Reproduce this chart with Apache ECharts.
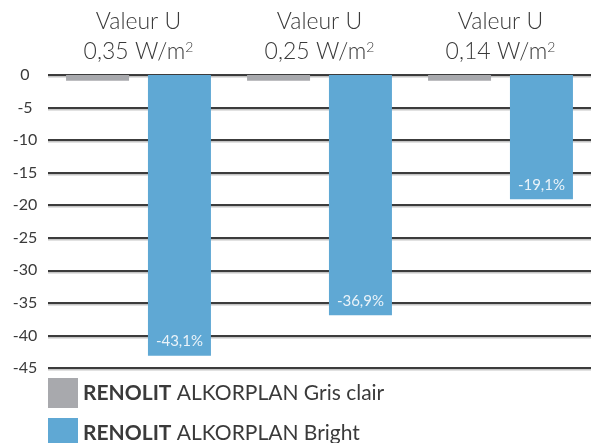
<!DOCTYPE html>
<html>
<head>
<meta charset="utf-8">
<script src="https://cdn.jsdelivr.net/npm/echarts@6/dist/echarts.min.js"></script>
<style>
  html, body { margin: 0; padding: 0; background: #fff; }
  #main { width: 591px; height: 443px; }
</style>
</head>
<body>
<div id="main"></div>
<script>
// valeurs U (W/m2) en haut de chaque groupe
var uValues = ["0,35", "0,25", "0,14"];
var seriesNames = ["RENOLIT ALKORPLAN Gris clair", "RENOLIT ALKORPLAN Bright"];
var grisClair = [-0.9, -0.9, -0.9];
var bright = [-43.1, -36.9, -19.1];

var colGris = "#a8a9ad";
var colBleu = "#5fa8d4";
var font = "Lato";

var myChart = echarts.init(document.getElementById("main"));
var option = {
  animation: false,
  textStyle: { fontFamily: font },
  grid: { left: 48, right: 0, top: 75, bottom: 75 },
  legend: {
    orient: "vertical",
    left: 48,
    top: 378,
    height: 90,
    padding: 0,
    itemWidth: 30,
    itemHeight: 30,
    itemGap: 10,
    icon: "rect",
    data: seriesNames,
    formatter: function(name) {
      return name.replace("RENOLIT", "{b|RENOLIT}");
    },
    textStyle: {
      fontFamily: font,
      fontSize: 21,
      color: "#3a3a3a",
      rich: {
        b: { fontFamily: font, fontSize: 21, fontWeight: "bold", color: "#3a3a3a" }
      }
    }
  },
  xAxis: {
    type: "category",
    position: "top",
    data: uValues,
    axisLine: { show: false },
    axisTick: { show: false },
    axisLabel: {
      interval: 0,
      margin: 8,
      fontFamily: font,
      fontSize: 23,
      fontWeight: 300,
      lineHeight: 30,
      color: "#3a3a3a",
      formatter: function(v) {
        return "Valeur U\n" + v + " W/m{sup|2}";
      },
      rich: {
        sup: { fontFamily: font, fontSize: 14, fontWeight: 300, color: "#3a3a3a", padding: [0, 0, 10, 0] }
      }
    }
  },
  yAxis: {
    type: "value",
    min: -45,
    max: 0,
    interval: 5,
    axisLine: { show: false },
    axisTick: { show: false },
    axisLabel: {
      margin: 23,
      align: "center",
      fontFamily: font,
      fontSize: 16,
      color: "#3a3a3a"
    },
    splitLine: {
      lineStyle: {
        color: "#3c3c3c",
        width: 2,
        shadowColor: "#c4c4c4",
        shadowOffsetY: 1.5,
        shadowBlur: 0
      }
    }
  },
  series: [
    {
      name: seriesNames[0],
      type: "bar",
      barWidth: 63,
      barGap: "30%",
      data: grisClair,
      itemStyle: { color: colGris }
    },
    {
      name: seriesNames[1],
      type: "bar",
      barWidth: 63,
      barGap: "30%",
      data: bright,
      itemStyle: { color: colBleu },
      label: {
        show: true,
        position: "insideBottom",
        distance: 7,
        fontFamily: font,
        fontSize: 15,
        color: "#eaf3f9",
        formatter: function(p) {
          return p.value.toFixed(1).replace(".", ",") + "%";
        }
      }
    }
  ]
};
myChart.setOption(option);
</script>
</body>
</html>
